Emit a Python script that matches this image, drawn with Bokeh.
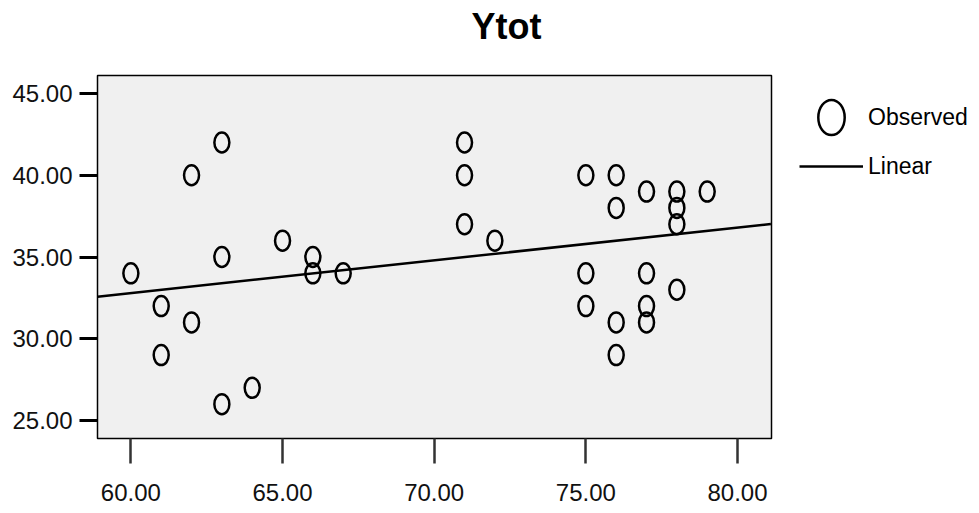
from bokeh.plotting import figure
from bokeh.models import (Range1d, FixedTicker, PrintfTickFormatter, Legend, LegendItem, Title)
from bokeh.embed import file_html
from bokeh.resources import INLINE

# Observed data (x, Ytot)
obs_x = [60, 61, 61, 62, 62, 63, 63, 63, 64, 65, 66, 66, 67,
         71, 71, 71, 72,
         75, 75, 75, 76, 76, 76, 76, 77, 77, 77, 77, 78, 78, 78, 78, 79]
obs_y = [34, 32, 29, 40, 31, 42, 35, 26, 27, 36, 35, 34, 34,
         42, 40, 37, 36,
         40, 34, 32, 40, 38, 31, 29, 39, 34, 32, 31, 39, 38, 37, 33, 39]

# Linear fit line
fit_x = [58.9, 81.1]
fit_y = [32.57, 37.02]

x_ticks = [60, 65, 70, 75, 80]
y_ticks = [25, 30, 35, 40, 45]

FONT = "Liberation Sans"

p = figure(frame_width=674, frame_height=363, output_backend="svg", toolbar_location=None,
           x_range=Range1d(58.9, 81.12), y_range=Range1d(23.9, 46.1),
           min_border_left=97, min_border_right=0, min_border_top=75,
           min_border_bottom=75)
p.border_fill_color = "white"
p.background_fill_color = "#f0f0f0"
p.outline_line_color = "black"
p.outline_line_width = 1.5
p.grid.visible = False
p.title.text = ""

spacer = Title(text=" ", text_font=FONT, text_font_size="10px", standoff=16)
p.add_layout(spacer, "above")
title = Title(text="Ytot", align="left", offset=374, standoff=0,
              vertical_align="bottom",
              text_font=FONT, text_font_size="36px", text_font_style="bold",
              text_color="black")
p.add_layout(title, "above")

# axes
p.xaxis.ticker = FixedTicker(ticks=x_ticks)
p.yaxis.ticker = FixedTicker(ticks=y_ticks)
p.xaxis.formatter = PrintfTickFormatter(format="%.2f")
p.yaxis.formatter = PrintfTickFormatter(format="%.2f")
for ax in (p.xaxis[0], p.yaxis[0]):
    ax.axis_line_color = None
    ax.minor_tick_line_color = None
    ax.major_tick_in = 0
    ax.major_label_text_font = FONT
    ax.major_label_text_font_size = "24px"
    ax.major_label_text_color = "#111111"
p.yaxis.major_tick_out = 18
p.yaxis.major_tick_line_width = 3
p.yaxis.major_tick_line_color = "black"
p.yaxis.major_label_standoff = 7
p.xaxis.major_tick_out = 25
p.xaxis.major_tick_line_width = 2.5
p.xaxis.major_tick_line_color = "#333333"
p.xaxis.major_label_standoff = 20

line = p.line(fit_x, fit_y, line_color="black", line_width=2.5)
ell = p.ellipse(obs_x, obs_y, width=15, height=20, width_units="screen",
                height_units="screen", fill_color=None, line_color="black",
                line_width=2.5)

legend = Legend(items=[LegendItem(label="Observed", renderers=[ell]),
                       LegendItem(label="Linear", renderers=[line])],
                location=(28, 250), glyph_width=64, glyph_height=44,
                spacing=5, padding=0, margin=0, label_standoff=5,
                label_text_font=FONT, label_text_font_size="23px",
                label_text_color="black",
                border_line_color=None, background_fill_alpha=0)
p.add_layout(legend, "right")

open("out.html", "w").write(file_html(p, INLINE))
